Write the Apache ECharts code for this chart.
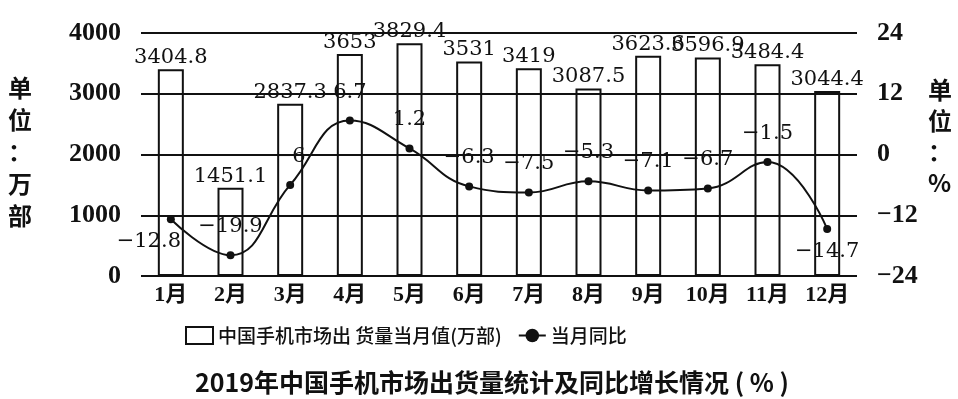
<!DOCTYPE html>
<html>
<head>
<meta charset="utf-8">
<script src="https://cdn.jsdelivr.net/npm/echarts@6/dist/echarts.min.js"></script>
<style>
  html, body { margin: 0; padding: 0; background: #fff; }
  #chart { width: 958px; height: 399px; }
</style>
</head>
<body>
<div id="chart"></div>
<script>
// Monthly shipments of mobile phones in China, 2019
const months = ['1月', '2月', '3月', '4月', '5月', '6月', '7月', '8月', '9月', '10月', '11月', '12月'];
const shipments = [3404.8, 1451.1, 2837.3, 3653, 3829.4, 3531, 3419, 3087.5, 3623.6, 3596.9, 3484.4, 3044.4];
const yoyGrowth = [-12.8, -19.9, -6, 6.7, 1.2, -6.3, -7.5, -5.3, -7.1, -6.7, -1.5, -14.7];
const leftTicks = [0, 1000, 2000, 3000, 4000];
const rightTicks = [-24, -12, 0, 12, 24];

const barName = '中国手机市场出 货量当月值(万部)';
const lineName = '当月同比';
const serif = '"Liberation Serif", "Times New Roman", serif';
const numFont = '"DejaVu Serif", serif';
const cjk = '"Noto Sans CJK SC", sans-serif';
const ink = '#111';

// print negatives with a typographic minus
const signed = v => (v < 0 ? '\u2212' + Math.abs(v) : String(v));

// growth labels at the year's ends sit below their points
const belowIdx = { 0: [-22, 0], 11: [0, 0] };

const chart = echarts.init(document.getElementById('chart'));
chart.setOption({
  animation: false,
  backgroundColor: '#fff',
  grid: { left: 141, right: 101, top: 33, bottom: 123, containLabel: false },
  title: {
    text: '2019年中国手机市场出货量统计及同比增长情况 ( % )',
    left: 190, top: 365,
    textStyle: { fontFamily: cjk, fontSize: 25, fontWeight: 'bold', color: ink }
  },
  legend: {
    left: 180, top: 321,
    itemWidth: 27, itemHeight: 17, itemGap: 16,
    textStyle: { fontFamily: cjk, fontSize: 19, fontWeight: 500, color: ink },
    data: [
      { name: barName, icon: 'rect', itemStyle: { color: '#fff', borderColor: ink, borderWidth: 2 } },
      { name: lineName }
    ]
  },
  xAxis: {
    type: 'category',
    data: months,
    axisLine: { show: false },
    axisTick: { show: false },
    axisLabel: { interval: 0, fontFamily: serif + ',' + cjk, fontSize: 22, fontWeight: 'bold', color: ink, margin: 8 }
  },
  yAxis: [
    {
      type: 'value', min: leftTicks[0], max: leftTicks[leftTicks.length - 1], interval: 1000,
      axisLine: { show: false }, axisTick: { show: false },
      splitLine: { lineStyle: { color: ink, width: 2 } },
      axisLabel: { formatter: v => String(v), fontFamily: serif, fontSize: 26, fontWeight: 'bold', color: ink, margin: 20 }
    },
    {
      type: 'value', min: rightTicks[0], max: rightTicks[rightTicks.length - 1], interval: 12,
      axisLine: { show: false }, axisTick: { show: false },
      splitLine: { show: false },
      axisLabel: { formatter: v => signed(v), fontFamily: serif, fontSize: 26, fontWeight: 'bold', color: ink, margin: 20, align: 'left' }
    }
  ],
  graphic: [
    {
      type: 'text', left: 8, top: 72,
      style: { text: '单\n位\n：\n万\n部', fontFamily: cjk, fontSize: 24, fontWeight: 'bold', lineHeight: 32, fill: ink, align: 'center' }
    },
    {
      type: 'text', left: 928, top: 74,
      style: { text: '单\n位\n：\n%', fontFamily: cjk, fontSize: 24, fontWeight: 'bold', lineHeight: 31, fill: ink, align: 'center' }
    }
  ],
  series: [
    {
      name: barName,
      type: 'bar',
      data: shipments,
      barWidth: 26,
      itemStyle: { color: 'rgba(255,255,255,0)', borderColor: ink, borderWidth: 2 },
      label: {
        show: true, position: 'top', distance: 1,
        fontFamily: numFont, fontSize: 21, color: ink
      }
    },
    {
      name: lineName,
      type: 'line',
      yAxisIndex: 1,
      smooth: 0.45,
      symbol: 'circle',
      symbolSize: 8,
      itemStyle: { color: ink },
      lineStyle: { color: ink, width: 2 },
      data: yoyGrowth.map((v, i) => belowIdx[i]
        ? { value: v, label: { position: 'bottom', distance: 8, offset: belowIdx[i] } }
        : v),
      label: {
        show: true, position: 'top', distance: 14,
        formatter: p => signed(p.value),
        fontFamily: numFont, fontSize: 21, color: ink
      }
    }
  ]
});
</script>
</body>
</html>
